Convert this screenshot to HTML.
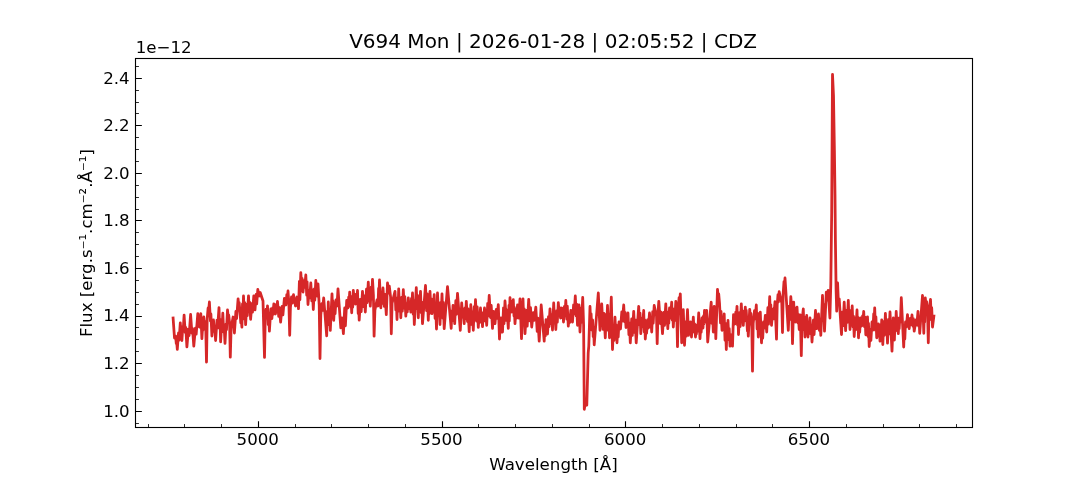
<!DOCTYPE html>
<html lang="en"><head><meta charset="utf-8"><title>V694 Mon | 2026-01-28 | 02:05:52 | CDZ</title>
<style>html,body{margin:0;padding:0;background:#fff;}body{width:1080px;height:480px;overflow:hidden;}svg{display:block;will-change:transform;}text{font-family:"DejaVu Sans","Liberation Sans",sans-serif;fill:#000;}.t{font-size:16.67px;}.ttl{font-size:20px;}</style></head><body>
<svg width="1080" height="480" viewBox="0 0 1080 480">
<rect width="1080" height="480" fill="#ffffff"/>
<path d="M148.50 427.5v-3.45M184.50 427.5v-3.45M221.50 427.5v-3.45M295.50 427.5v-3.45M331.50 427.5v-3.45M368.50 427.5v-3.45M405.50 427.5v-3.45M478.50 427.5v-3.45M515.50 427.5v-3.45M552.50 427.5v-3.45M589.50 427.5v-3.45M662.50 427.5v-3.45M699.50 427.5v-3.45M736.50 427.5v-3.45M772.50 427.5v-3.45M846.50 427.5v-3.45M883.50 427.5v-3.45M919.50 427.5v-3.45M956.50 427.5v-3.45M135.5 423.50h3.45M135.5 399.50h3.45M135.5 387.50h3.45M135.5 375.50h3.45M135.5 351.50h3.45M135.5 339.50h3.45M135.5 327.50h3.45M135.5 304.50h3.45M135.5 292.50h3.45M135.5 280.50h3.45M135.5 256.50h3.45M135.5 244.50h3.45M135.5 232.50h3.45M135.5 209.50h3.45M135.5 197.50h3.45M135.5 185.50h3.45M135.5 161.50h3.45M135.5 149.50h3.45M135.5 137.50h3.45M135.5 113.50h3.45M135.5 102.50h3.45M135.5 90.50h3.45M135.5 66.50h3.45" stroke="#000" stroke-width="0.83" fill="none"/>
<path d="M258.50 427.5v-6.35M442.50 427.5v-6.35M625.50 427.5v-6.35M809.50 427.5v-6.35M135.5 411.50h6.35M135.5 363.50h6.35M135.5 316.50h6.35M135.5 268.50h6.35M135.5 220.50h6.35M135.5 173.50h6.35M135.5 125.50h6.35M135.5 78.50h6.35" stroke="#000" stroke-width="1.11" fill="none"/>
<path d="M173.1 318.0 L174.5 338.0 L175.6 336.0 L176.3 343.7 L176.6 340.8 L177.3 349.3 L178.5 333.0 L179.1 340.1 L180.3 322.9 L180.9 333.5 L181.3 329.7 L181.9 340.5 L182.8 326.6 L183.2 330.3 L184.1 315.1 L185.2 332.4 L185.8 327.5 L186.9 346.8 L188.4 329.1 L189.1 335.5 L190.6 314.5 L191.9 333.2 L192.5 328.4 L193.8 346.1 L195.4 328.1 L196.2 334.2 L197.8 313.6 L198.4 321.8 L198.8 319.7 L199.4 327.0 L200.8 313.6 L201.9 338.6 L202.7 325.4 L203.0 330.2 L203.8 317.0 L204.6 325.3 L205.0 321.4 L205.8 329.6 L206.5 362.1 L207.2 318.8 L208.1 308.0 L208.5 312.5 L209.4 302.0 L210.4 320.9 L210.9 314.0 L211.9 336.0 L212.5 326.8 L212.9 329.0 L213.5 320.0 L214.3 331.5 L214.8 328.4 L215.6 340.5 L217.0 320.2 L217.6 327.8 L219.0 307.6 L219.6 328.3 L220.0 319.5 L220.6 341.8 L221.5 326.2 L221.9 331.4 L222.8 313.2 L223.7 332.0 L224.1 325.0 L225.0 343.4 L226.0 324.1 L226.5 329.7 L227.5 310.0 L228.3 317.8 L228.7 315.0 L229.6 323.2 L230.3 357.1 L231.1 328.2 L233.1 317.0 L234.4 333.0 L235.9 311.3 L236.6 318.5 L238.1 298.9 L238.9 307.9 L239.2 302.7 L240.0 312.0 L240.8 322.9 L241.1 316.9 L241.9 327.1 L242.5 303.9 L242.9 319.2 L243.5 296.0 L244.3 318.2 L244.8 302.7 L245.6 324.6 L246.8 304.1 L247.3 315.6 L248.5 295.8 L249.3 311.7 L249.8 302.3 L250.6 319.3 L251.9 303.7 L252.5 312.2 L253.8 295.8 L255.0 309.8 L256.1 294.5 L256.7 303.9 L257.8 289.5 L259.2 296.0 L260.2 292.5 L263.0 301.0 L264.5 357.4 L265.2 320.2 L266.1 309.2 L266.6 316.5 L267.5 305.8 L268.3 324.6 L268.6 313.2 L269.4 331.1 L270.8 309.0 L271.9 318.5 L272.7 307.9 L273.0 314.5 L273.8 304.0 L275.5 314.0 L276.3 304.5 L276.7 309.8 L277.5 301.5 L278.7 316.3 L279.4 307.7 L280.6 322.2 L282.1 306.3 L282.9 314.9 L284.4 298.3 L286.0 305.0 L286.8 294.7 L287.2 300.3 L288.0 291.0 L288.9 303.4 L289.7 335.3 L290.4 307.7 L291.5 297.0 L292.3 303.0 L293.5 294.7 L295.5 306.0 L297.0 297.0 L298.5 308.7 L299.4 281.4 L299.9 299.6 L300.8 272.7 L301.7 286.3 L302.1 278.5 L303.0 292.0 L304.1 280.7 L304.7 287.3 L305.8 275.0 L306.7 295.1 L307.1 281.9 L308.0 304.5 L309.1 290.2 L309.7 297.8 L310.8 283.0 L311.8 300.9 L312.3 289.6 L313.3 309.5 L314.3 289.0 L314.8 300.1 L315.8 280.5 L317.0 296.0 L318.0 283.8 L319.2 304.7 L320.0 358.5 L320.8 314.9 L321.9 303.6 L322.5 310.3 L323.7 298.0 L326.7 335.8 L327.3 311.3 L327.7 324.8 L328.3 302.0 L329.1 323.5 L329.5 311.2 L330.3 330.4 L332.0 293.8 L332.7 312.2 L333.0 301.0 L333.7 320.3 L334.6 306.0 L335.1 313.7 L336.0 300.0 L337.0 306.0 L338.0 288.8 L340.8 327.8 L342.0 318.0 L343.4 333.7 L344.7 308.0 L345.4 325.8 L346.7 300.5 L348.0 308.0 L348.7 297.2 L349.0 304.1 L349.7 292.2 L350.5 306.4 L350.9 297.9 L351.7 312.8 L352.3 296.5 L352.7 307.2 L353.3 290.5 L354.2 299.4 L354.6 294.1 L355.5 304.0 L356.3 294.5 L356.7 300.1 L357.5 290.5 L358.2 313.5 L358.5 299.5 L359.2 320.2 L360.5 299.3 L361.2 311.7 L362.5 291.3 L363.6 306.6 L364.2 296.0 L365.3 312.0 L366.5 289.1 L367.1 302.7 L368.3 282.2 L369.1 300.6 L369.5 289.8 L370.3 306.2 L371.2 287.2 L371.6 299.0 L372.5 279.3 L373.4 295.2 L374.1 336.2 L374.9 310.1 L377.0 300.0 L378.0 306.0 L378.6 288.5 L378.9 298.3 L379.5 280.0 L380.8 307.8 L381.7 294.6 L382.1 303.3 L383.0 288.0 L384.3 306.3 L385.0 294.4 L386.3 314.7 L387.5 283.0 L388.7 293.0 L389.3 286.2 L390.6 297.2 L391.3 333.8 L392.1 303.2 L395.0 291.3 L395.8 309.9 L396.2 298.0 L397.0 319.5 L397.7 298.9 L398.0 311.4 L398.7 288.8 L399.5 308.0 L400.0 298.2 L400.8 317.8 L401.8 297.2 L402.3 311.1 L403.3 289.7 L404.3 308.0 L404.8 296.6 L405.8 316.2 L406.8 303.4 L407.3 311.9 L408.3 298.0 L409.3 308.7 L409.8 302.7 L410.8 312.0 L411.5 298.4 L411.8 306.7 L412.5 293.0 L413.2 314.1 L413.6 300.3 L414.3 324.5 L416.3 287.7 L417.1 308.8 L417.5 295.3 L418.3 317.8 L419.2 297.7 L419.6 311.5 L420.5 291.3 L421.3 312.8 L421.7 302.1 L422.5 323.7 L425.5 285.5 L426.6 310.7 L427.2 293.8 L428.3 320.3 L429.0 299.3 L429.3 313.8 L430.0 291.3 L430.8 307.5 L431.2 298.9 L432.0 313.7 L432.9 299.2 L433.3 307.9 L434.2 294.7 L435.1 318.4 L435.6 303.8 L436.5 329.0 L437.5 293.0 L438.5 314.4 L439.0 302.8 L440.0 324.5 L440.8 302.3 L441.2 314.9 L442.0 293.8 L442.9 318.2 L443.3 302.4 L444.2 328.7 L447.5 286.7 L451.2 328.3 L451.9 311.0 L452.3 320.6 L453.0 305.5 L453.7 319.4 L454.0 311.3 L454.7 323.7 L455.8 300.7 L456.4 314.3 L457.5 293.3 L460.3 330.3 L461.7 303.0 L462.7 317.2 L463.2 308.8 L464.2 323.7 L465.0 308.0 L465.5 318.7 L466.3 301.3 L467.5 321.5 L468.0 309.0 L469.2 331.7 L469.8 313.0 L470.2 323.5 L470.8 304.7 L471.8 324.5 L472.3 311.7 L473.3 330.3 L474.2 306.7 L474.6 319.9 L475.5 299.7 L476.6 321.1 L477.2 307.0 L478.3 327.3 L479.2 314.1 L479.6 322.5 L480.5 308.0 L481.3 320.8 L481.7 312.6 L482.5 326.7 L483.3 313.0 L483.7 320.6 L484.5 308.0 L485.4 321.2 L485.8 312.8 L486.7 325.3 L487.7 303.3 L488.2 315.9 L489.2 295.5 L490.5 317.5 L491.2 305.3 L492.5 328.3 L493.5 311.3 L494.1 320.8 L494.4 315.2 L495.0 323.7 L496.3 309.4 L497.0 318.4 L498.3 304.7 L499.5 339.0 L500.1 324.7 L500.4 332.4 L501.0 318.0 L501.6 327.8 L501.9 322.4 L502.5 332.0 L503.5 307.9 L504.0 323.7 L505.0 301.0 L506.3 320.3 L507.0 310.1 L508.3 328.3 L509.0 305.4 L509.3 320.9 L510.0 297.7 L510.7 307.4 L511.0 301.1 L511.7 312.0 L512.3 302.5 L512.7 308.1 L513.3 299.7 L514.0 316.0 L514.3 307.4 L515.0 323.7 L516.0 309.2 L516.5 318.1 L517.5 305.0 L518.8 318.0 L520.0 298.8 L521.5 338.7 L523.0 298.8 L523.8 323.3 L524.2 308.8 L525.0 333.7 L526.5 310.5 L527.2 326.1 L528.7 299.3 L529.9 320.8 L530.5 307.6 L531.7 327.0 L533.3 312.7 L534.2 320.4 L535.8 307.2 L537.2 331.4 L537.8 318.2 L539.2 341.2 L541.2 305.0 L544.2 341.2 L544.9 324.9 L545.3 335.9 L546.0 319.7 L546.6 329.6 L546.9 323.3 L547.5 334.0 L548.5 316.6 L549.0 326.7 L550.0 308.8 L551.0 323.5 L551.5 314.5 L552.5 330.0 L553.7 303.0 L554.5 320.9 L555.0 311.7 L555.8 329.5 L556.8 310.7 L557.3 322.1 L558.3 302.7 L559.2 313.9 L559.6 307.7 L560.5 318.0 L562.0 308.0 L562.6 317.9 L562.9 312.6 L563.5 322.0 L564.4 306.5 L564.9 315.9 L565.8 300.5 L566.8 319.1 L567.3 306.2 L568.3 326.2 L569.3 315.0 L569.8 322.4 L570.8 310.5 L572.5 322.0 L573.6 304.8 L574.2 313.8 L575.3 296.0 L576.2 315.9 L576.6 304.1 L577.5 325.3 L578.1 310.1 L578.4 319.5 L579.0 305.0 L580.0 332.0 L581.1 307.9 L581.6 322.3 L582.7 297.5 L583.6 325.0 L584.3 409.3 L585.5 401.0 L586.8 405.2 L588.2 353.0 L588.8 346.0 L590.0 306.5 L590.7 323.6 L591.1 313.9 L591.8 330.0 L592.6 320.0 L593.2 336.7 L593.6 327.1 L594.2 344.8 L598.3 293.0 L600.0 330.3 L600.7 312.0 L601.0 323.6 L601.7 303.8 L603.1 329.4 L603.9 313.4 L605.3 337.8 L606.2 314.3 L606.6 327.7 L607.5 305.5 L608.3 330.4 L608.7 314.3 L609.5 337.8 L611.3 297.2 L612.5 349.5 L613.5 325.8 L614.0 340.4 L615.0 317.2 L615.8 335.7 L616.2 325.0 L617.0 342.8 L617.8 327.9 L618.2 336.9 L619.0 322.0 L620.5 329.0 L621.8 311.8 L622.4 321.0 L623.7 305.0 L624.6 321.7 L625.1 312.3 L626.0 327.5 L626.8 316.3 L627.2 323.9 L628.0 313.0 L628.9 334.7 L629.4 322.9 L630.3 342.8 L631.7 318.8 L632.3 335.4 L633.7 311.3 L634.7 332.5 L635.2 319.9 L636.2 342.8 L638.7 306.3 L639.5 324.6 L640.0 313.1 L640.8 333.7 L642.0 318.2 L642.5 326.7 L643.7 310.5 L644.3 332.0 L644.7 319.8 L645.3 339.0 L646.2 326.1 L646.6 333.2 L647.5 320.0 L648.3 328.0 L649.5 313.0 L650.4 327.0 L650.8 317.5 L651.7 332.0 L652.7 311.7 L653.2 323.1 L654.2 305.5 L656.5 316.2 L657.2 343.7 L658.0 313.2 L658.8 301.3 L660.3 323.5 L661.0 312.1 L662.5 333.7 L663.8 312.5 L664.5 325.4 L665.8 303.8 L666.6 323.2 L667.0 311.8 L667.8 328.7 L668.5 314.6 L668.8 323.1 L669.5 308.0 L670.5 318.0 L671.7 302.2 L672.3 320.1 L672.7 308.7 L673.3 327.0 L674.3 309.4 L674.8 320.4 L675.8 301.3 L676.8 314.0 L677.5 346.7 L678.2 308.6 L679.1 297.6 L679.5 305.3 L680.3 293.8 L681.7 342.8 L682.3 318.8 L682.7 333.8 L683.3 309.7 L684.5 345.3 L685.7 321.7 L686.3 336.1 L687.5 309.7 L688.5 335.3 L689.3 325.5 L689.7 331.6 L690.5 322.0 L691.5 337.0 L692.2 323.8 L692.6 330.3 L693.3 317.2 L694.2 332.1 L694.6 323.9 L695.5 337.0 L696.1 328.9 L696.4 334.0 L697.0 325.0 L697.8 331.0 L698.7 313.0 L700.0 338.7 L700.8 324.9 L701.2 332.2 L702.0 318.0 L703.0 328.0 L703.6 315.9 L703.9 323.9 L704.5 310.5 L705.5 322.0 L706.7 310.5 L707.7 342.0 L711.2 302.2 L712.0 323.4 L712.5 312.0 L713.3 332.0 L714.2 306.3 L714.8 330.9 L715.2 314.4 L715.8 338.7 L717.5 289.3 L718.3 298.6 L718.7 293.8 L719.5 303.0 L720.5 322.9 L721.0 311.3 L722.0 330.3 L722.9 319.2 L723.3 326.6 L724.2 313.8 L725.0 340.3 L725.5 323.5 L726.3 349.5 L727.0 330.1 L727.3 339.9 L728.0 320.5 L728.8 339.4 L729.2 328.6 L730.0 346.2 L731.2 335.0 L732.5 346.2 L733.5 314.7 L735.0 324.0 L735.8 312.1 L736.2 318.3 L737.0 306.3 L737.6 325.1 L737.9 315.4 L738.5 334.5 L739.6 312.6 L740.2 326.5 L741.3 303.8 L742.1 319.4 L742.5 310.9 L743.3 325.3 L744.1 312.8 L744.5 321.0 L745.3 307.2 L745.9 316.5 L746.2 310.4 L746.8 320.0 L747.4 330.9 L747.7 323.9 L748.3 336.2 L749.7 309.3 L750.5 320.8 L750.9 313.5 L751.8 326.6 L752.5 371.2 L753.2 323.5 L754.5 310.6 L755.1 318.8 L756.3 305.0 L757.1 329.0 L757.5 313.2 L758.3 337.0 L759.1 319.1 L759.5 331.0 L760.3 312.2 L761.5 342.8 L762.3 328.2 L762.7 338.2 L763.5 322.0 L764.3 328.0 L765.3 315.5 L766.7 332.0 L767.9 307.6 L768.5 324.2 L769.7 296.7 L770.4 318.1 L770.8 304.9 L771.5 325.3 L772.9 309.2 L773.6 318.8 L775.0 301.7 L776.5 339.2 L777.2 305.0 L778.0 294.7 L778.4 301.9 L779.2 291.7 L781.8 303.1 L782.5 332.5 L783.2 293.3 L784.0 281.7 L784.3 289.1 L785.0 278.0 L788.3 330.3 L789.3 306.1 L789.8 319.5 L790.8 296.7 L791.8 309.9 L792.5 343.7 L793.7 302.2 L794.3 316.2 L794.7 307.8 L795.3 322.0 L796.0 311.0 L796.3 317.0 L797.0 307.2 L797.9 322.8 L798.3 314.3 L799.2 329.5 L800.3 315.0 L801.3 355.7 L802.0 321.9 L803.3 308.8 L804.0 329.8 L804.3 317.2 L805.0 337.0 L805.7 321.8 L806.0 331.4 L806.7 315.5 L808.0 337.0 L808.8 324.3 L809.2 332.5 L810.0 318.0 L810.8 334.0 L811.2 325.4 L812.0 342.0 L813.4 320.2 L814.1 334.5 L815.5 310.5 L816.7 328.7 L817.4 318.8 L817.8 324.0 L818.5 314.0 L819.4 330.3 L819.9 320.4 L820.8 335.3 L822.5 295.5 L823.3 320.3 L823.7 304.4 L824.5 331.2 L826.3 292.2 L827.3 300.0 L828.2 290.5 L829.9 318.0 L830.8 284.0 L831.7 212.0 L832.5 74.4 L833.5 96.0 L834.4 150.0 L835.0 195.0 L835.4 240.0 L836.1 290.0 L836.7 311.2 L837.6 283.0 L838.3 300.0 L839.2 298.8 L841.5 334.5 L842.6 312.0 L843.1 325.6 L844.2 302.2 L845.6 330.7 L846.7 310.2 L847.2 322.4 L848.3 300.5 L849.0 320.6 L849.3 310.2 L850.0 329.5 L850.9 311.2 L851.3 322.8 L852.2 306.0 L853.0 327.0 L853.4 316.2 L854.2 336.5 L855.3 318.0 L855.9 329.5 L857.0 310.0 L857.6 328.4 L857.9 317.4 L858.5 337.8 L859.3 323.6 L859.7 332.2 L860.5 318.0 L861.8 326.0 L862.6 315.9 L862.9 321.9 L863.7 311.3 L864.5 326.8 L865.0 317.2 L865.8 334.8 L866.5 322.7 L866.8 330.0 L867.5 316.8 L868.2 336.6 L868.5 323.4 L869.2 346.5 L870.3 329.4 L870.9 340.4 L872.0 322.0 L873.0 330.0 L873.7 313.8 L874.0 323.7 L874.7 307.8 L875.5 330.3 L875.9 316.8 L876.7 337.8 L877.3 327.5 L877.7 333.3 L878.3 324.0 L879.0 336.2 L879.3 328.5 L880.0 341.2 L880.7 324.7 L881.0 336.2 L881.7 320.0 L882.8 344.5 L883.8 321.3 L884.4 335.3 L885.4 313.5 L886.2 333.3 L886.7 323.0 L887.5 343.2 L888.5 319.3 L889.0 334.0 L890.0 312.0 L892.0 351.2 L893.3 318.0 L894.4 340.0 L895.1 318.7 L895.5 331.0 L896.2 311.5 L897.0 326.5 L897.5 317.8 L898.3 333.7 L898.9 322.4 L899.2 328.7 L899.8 318.0 L900.4 322.0 L901.3 297.7 L903.7 347.0 L904.4 328.1 L904.8 339.0 L905.5 322.0 L906.3 327.0 L907.5 314.7 L908.2 324.9 L908.5 319.3 L909.2 328.7 L910.3 318.5 L910.9 324.5 L912.0 315.0 L912.9 326.1 L913.3 318.6 L914.2 331.2 L916.0 320.0 L916.8 325.0 L918.0 311.3 L918.7 326.2 L919.0 317.1 L919.7 333.3 L922.5 295.5 L923.8 333.3 L924.4 309.6 L924.7 322.0 L925.3 298.0 L926.2 307.1 L926.6 301.7 L927.5 310.5 L928.3 342.8 L929.0 311.5 L930.5 299.3 L931.3 319.7 L931.7 307.7 L932.5 327.0 L933.9 316.0" fill="none" stroke="#d62728" stroke-width="2.78" stroke-linejoin="round" stroke-linecap="square"/>
<rect x="135.5" y="58.5" width="837.0" height="369.0" fill="none" stroke="#000" stroke-width="1.11"/>
<text class="t" x="257.75" y="445.0" text-anchor="middle">5000</text>
<text class="t" x="441.48" y="445.0" text-anchor="middle">5500</text>
<text class="t" x="625.20" y="445.0" text-anchor="middle">6000</text>
<text class="t" x="808.92" y="445.0" text-anchor="middle">6500</text>
<text class="t" x="129.7" y="416.60" text-anchor="end">1.0</text>
<text class="t" x="129.7" y="369.04" text-anchor="end">1.2</text>
<text class="t" x="129.7" y="321.48" text-anchor="end">1.4</text>
<text class="t" x="129.7" y="273.92" text-anchor="end">1.6</text>
<text class="t" x="129.7" y="226.36" text-anchor="end">1.8</text>
<text class="t" x="129.7" y="178.80" text-anchor="end">2.0</text>
<text class="t" x="129.7" y="131.24" text-anchor="end">2.2</text>
<text class="t" x="129.7" y="83.68" text-anchor="end">2.4</text>
<text class="t" x="135.7" y="52.8">1e−12</text>
<text class="ttl" x="553.1" y="47.9" text-anchor="middle">V694 Mon | 2026-01-28 | 02:05:52 | CDZ</text>
<text class="t" x="553.5" y="469.6" text-anchor="middle">Wavelength [Å]</text>
<text class="t" transform="translate(91.8 243.1) rotate(-90)" text-anchor="middle">Flux [erg.s⁻¹.cm⁻².Å⁻¹]</text>
</svg></body></html>
